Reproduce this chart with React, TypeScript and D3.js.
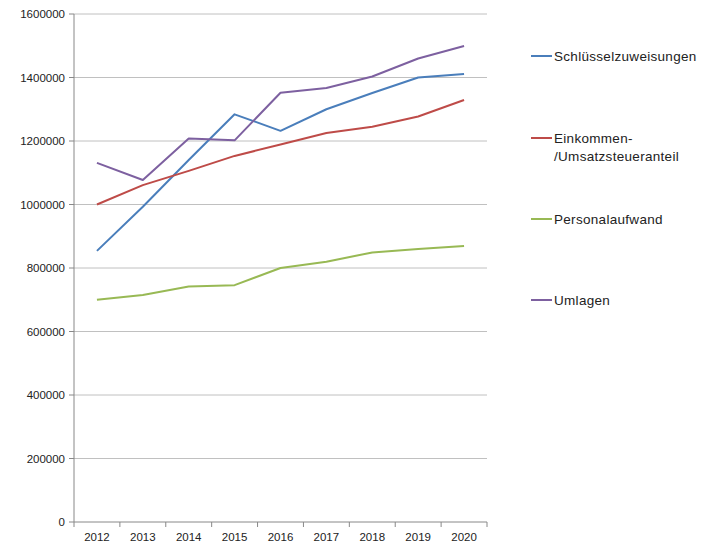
import React from "react";
import * as d3 from "d3";

const width = 708;
const height = 543;
const margin = { top: 14, right: 221, bottom: 21, left: 74 };

const years = ["2012", "2013", "2014", "2015", "2016", "2017", "2018", "2019", "2020"];
const yTicks = [0, 200000, 400000, 600000, 800000, 1000000, 1200000, 1400000, 1600000];

const schluessel = [854000, 993000, 1140000, 1284000, 1232000, 1300000, 1351000, 1400000, 1411000];
const einkommen = [1000000, 1061000, 1106000, 1153000, 1189000, 1225000, 1245000, 1277000, 1329000];
const personal = [700000, 715000, 742000, 746000, 800000, 820000, 849000, 860000, 869000];
const umlagen = [1131000, 1077000, 1208000, 1202000, 1352000, 1367000, 1403000, 1460000, 1499000];

const series = [
  { name: ["Schlüsselzuweisungen"], values: schluessel, color: "#4a7ebb" },
  { name: ["Einkommen-", "/Umsatzsteueranteil"], values: einkommen, color: "#be4b48" },
  { name: ["Personalaufwand"], values: personal, color: "#98b954" },
  { name: ["Umlagen"], values: umlagen, color: "#7d60a0" },
];
const legendY = [56, 138, 219, 300];

const font = "'Liberation Sans', Arial, sans-serif";

const App = () => {
  const x = d3
    .scaleBand()
    .domain(years)
    .range([margin.left, width - margin.right]);
  const y = d3
    .scaleLinear()
    .domain([0, 1600000])
    .range([height - margin.bottom, margin.top]);

  const line = d3
    .line<number>()
    .x((_, i) => (x(years[i]) as number) + x.bandwidth() / 2)
    .y((d) => y(d));

  const bottom = height - margin.bottom;
  const right = width - margin.right;

  return (
    <svg
      width={width}
      height={height}
      style={{ position: "absolute", left: 0, top: 0, background: "#fff" }}
    >
      {yTicks.map((t) => (
        <g key={t}>
          {t > 0 && (
            <line x1={margin.left} x2={right} y1={y(t)} y2={y(t)} stroke="#c0c0c0" strokeWidth={1} />
          )}
          <line x1={margin.left - 5} x2={margin.left} y1={y(t)} y2={y(t)} stroke="#888" />
          <text
            x={margin.left - 9}
            y={y(t)}
            dy="0.35em"
            textAnchor="end"
            fontFamily={font}
            fontSize={11.5}
            fill="#222"
          >
            {t}
          </text>
        </g>
      ))}
      <line x1={margin.left} x2={margin.left} y1={margin.top} y2={bottom} stroke="#888" />
      <line x1={margin.left} x2={right} y1={bottom} y2={bottom} stroke="#888" />
      {years.map((yr) => (
        <g key={yr}>
          <line x1={x(yr) as number} x2={x(yr) as number} y1={bottom} y2={bottom + 5} stroke="#888" />
          <text
            x={(x(yr) as number) + x.bandwidth() / 2}
            y={bottom + 19}
            textAnchor="middle"
            fontFamily={font}
            fontSize={11.5}
            fill="#222"
          >
            {yr}
          </text>
        </g>
      ))}
      <line x1={right} x2={right} y1={bottom} y2={bottom + 5} stroke="#888" />
      {series.map((s) => (
        <path
          key={s.color}
          d={line(s.values) as string}
          fill="none"
          stroke={s.color}
          strokeWidth={2}
          strokeLinejoin="round"
        />
      ))}
      {series.map((s, i) => (
        <g key={s.color}>
          <line x1={531} x2={552} y1={legendY[i]} y2={legendY[i]} stroke={s.color} strokeWidth={2} />
          {s.name.map((n, j) => (
            <text
              key={n}
              x={554}
              y={legendY[i] + j * 18}
              dy="0.35em"
              fontFamily={font}
              fontSize={13.5}
              letterSpacing={0.3}
              fill="#222"
            >
              {n}
            </text>
          ))}
        </g>
      ))}
    </svg>
  );
};

export default App;
